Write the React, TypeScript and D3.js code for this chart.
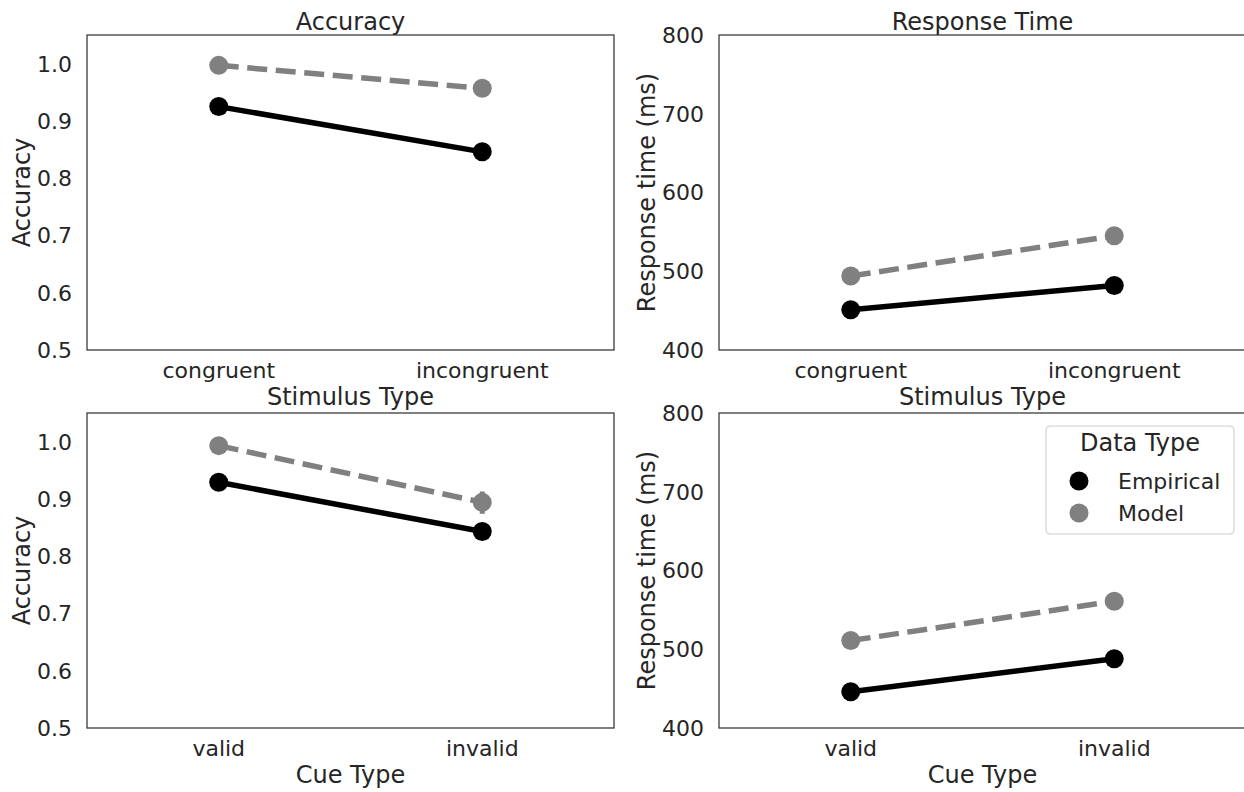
import React from "react";
import * as d3 from "d3";

const stimCategories = ["congruent", "incongruent"];
const cueCategories = ["valid", "invalid"];

const accStimEmpirical = [0.925, 0.846];
const accStimModel = [0.997, 0.957];
const rtStimEmpirical = [451, 482];
const rtStimModel = [494, 545];
const accCueEmpirical = [0.929, 0.843];
const accCueModel = [0.993, 0.894];
const rtCueEmpirical = [446, 488];
const rtCueModel = [511, 561];

// confidence intervals (low, high)
const accStimEmpiricalCI = [[0.922, 0.928], [0.842, 0.85]];
const accStimModelCI = [[0.995, 0.999], [0.953, 0.961]];
const rtStimEmpiricalCI = [[449, 453], [479, 485]];
const rtStimModelCI = [[492, 496], [542, 548]];
const accCueEmpiricalCI = [[0.926, 0.932], [0.839, 0.847]];
const accCueModelCI = [[0.99, 0.996], [0.874, 0.913]];
const rtCueEmpiricalCI = [[444, 448], [485, 491]];
const rtCueModelCI = [[509, 513], [558, 564]];

const accTicks = [0.5, 0.6, 0.7, 0.8, 0.9, 1.0];
const rtTicks = [400, 500, 600, 700, 800];

const seriesNames = ["Empirical", "Model"];
const seriesColors = ["#000000", "#808080"];
const seriesDash = [null, "20,8.6"];

const FONT = "DejaVu Sans, sans-serif";
const TXT = "#262626";

type PanelProps = {
  x0: number; x1: number; y0: number; y1: number;
  cats: string[];
  domain: [number, number];
  ticks: number[];
  fmt: (v: number) => string;
  series: number[][];
  cis: number[][][];
  title?: string;
  xlabel: string;
  ylabel: string;
  ylabelX: number;
  legend?: boolean;
};

function Panel(p: PanelProps) {
  const x = d3.scalePoint<string>().domain(p.cats).range([p.x0, p.x1]).padding(0.5);
  const y = d3.scaleLinear().domain(p.domain).range([p.y1, p.y0]);
  const line = d3.line<number>().x((_, i) => x(p.cats[i]) as number).y((d) => y(d));
  return (
    <g>
      {p.title && (
        <text x={(p.x0 + p.x1) / 2} y={p.y0 - 5} textAnchor="middle" fontSize={24} fill={TXT} fontFamily={FONT}>
          {p.title}
        </text>
      )}
      {p.series.map((vals, si) => (
        <g key={si}>
          {p.cis[si].map((ci, i) => (
            <line key={"ci" + i} x1={x(p.cats[i])} x2={x(p.cats[i])} y1={y(ci[0])} y2={y(ci[1])}
              stroke={seriesColors[si]} strokeWidth={5} />
          ))}
          <path d={line(vals) || ""} fill="none" stroke={seriesColors[si]} strokeWidth={5.5}
            strokeDasharray={seriesDash[si] || undefined} />
          {vals.map((v, i) => (
            <circle key={i} cx={x(p.cats[i])} cy={y(v)} r={9.5} fill={seriesColors[si]} />
          ))}
        </g>
      ))}
      <rect x={p.x0} y={p.y0} width={p.x1 - p.x0} height={p.y1 - p.y0} fill="none" stroke="#333" strokeWidth={1.25} />
      {p.ticks.map((t) => (
        <text key={t} x={p.x0 - 15} y={y(t)} dy="0.36em" textAnchor="end" fontSize={22} fill={TXT} fontFamily={FONT}>
          {p.fmt(t)}
        </text>
      ))}
      {p.cats.map((c) => (
        <text key={c} x={x(c)} y={p.y1 + 28} textAnchor="middle" fontSize={22} fill={TXT} fontFamily={FONT}>
          {c}
        </text>
      ))}
      <text x={(p.x0 + p.x1) / 2} y={p.y1 + 55} textAnchor="middle" fontSize={24} fill={TXT} fontFamily={FONT}>
        {p.xlabel}
      </text>
      <text transform={`translate(${p.ylabelX},${(p.y0 + p.y1) / 2}) rotate(-90)`} textAnchor="middle"
        fontSize={24} fill={TXT} fontFamily={FONT}>
        {p.ylabel}
      </text>
      {p.legend && (
        <g>
          <rect x={1046} y={426} width={188} height={108} rx={4} fill="white" stroke="#cccccc" strokeWidth={1} />
          <text x={1140} y={451} textAnchor="middle" fontSize={24} fill={TXT} fontFamily={FONT}>Data Type</text>
          {seriesNames.map((n, i) => (
            <g key={n}>
              <circle cx={1079} cy={481 + i * 32} r={9.5} fill={seriesColors[i]} />
              <text x={1118} y={481 + i * 32} dy="0.36em" fontSize={22} fill={TXT} fontFamily={FONT}>{n}</text>
            </g>
          ))}
        </g>
      )}
    </g>
  );
}

export default function App() {
  const accFmt = (v: number) => v.toFixed(1);
  const rtFmt = (v: number) => String(v);
  return (
    <svg width={1244} height={792} style={{ position: "absolute", left: 0, top: 0, background: "white" }}>
      <rect width={1244} height={792} fill="white" />
      <Panel x0={87} x1={614} y0={35} y1={350} cats={stimCategories} domain={[0.5, 1.05]} ticks={accTicks}
        fmt={accFmt} series={[accStimEmpirical, accStimModel]} cis={[accStimEmpiricalCI, accStimModelCI]}
        title="Accuracy" xlabel="Stimulus Type" ylabel="Accuracy" ylabelX={30} />
      <Panel x0={719} x1={1246} y0={35} y1={350} cats={stimCategories} domain={[400, 800]} ticks={rtTicks}
        fmt={rtFmt} series={[rtStimEmpirical, rtStimModel]} cis={[rtStimEmpiricalCI, rtStimModelCI]}
        title="Response Time" xlabel="Stimulus Type" ylabel="Response time (ms)" ylabelX={655} />
      <Panel x0={87} x1={614} y0={413} y1={728} cats={cueCategories} domain={[0.5, 1.05]} ticks={accTicks}
        fmt={accFmt} series={[accCueEmpirical, accCueModel]} cis={[accCueEmpiricalCI, accCueModelCI]}
        xlabel="Cue Type" ylabel="Accuracy" ylabelX={30} />
      <Panel x0={719} x1={1246} y0={413} y1={728} cats={cueCategories} domain={[400, 800]} ticks={rtTicks}
        fmt={rtFmt} series={[rtCueEmpirical, rtCueModel]} cis={[rtCueEmpiricalCI, rtCueModelCI]}
        xlabel="Cue Type" ylabel="Response time (ms)" ylabelX={655} legend />
    </svg>
  );
}
